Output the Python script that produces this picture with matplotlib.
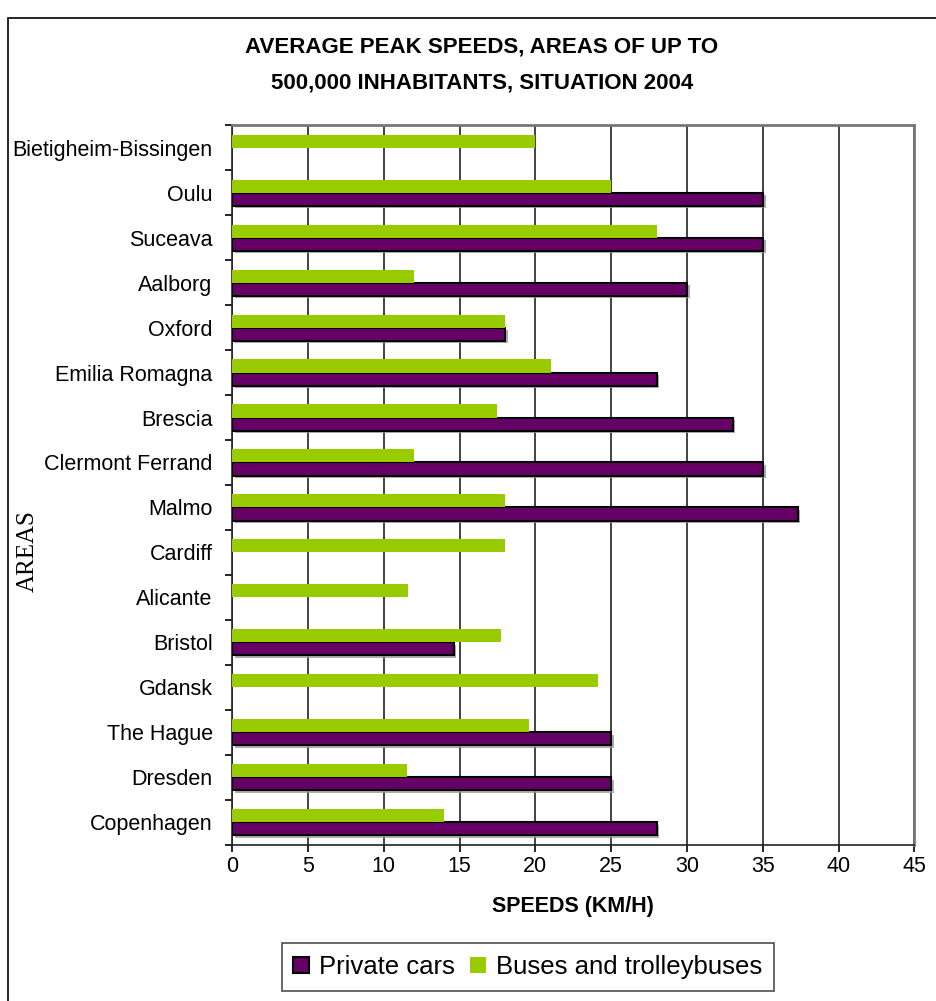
import numpy as np
import matplotlib.pyplot as plt
import matplotlib.patheffects as pe
from matplotlib.patches import Rectangle

# areas listed bottom to top
areas = ['Copenhagen', 'Dresden', 'The Hague', 'Gdansk', 'Bristol', 'Alicante',
         'Cardiff', 'Malmo', 'Clermont Ferrand', 'Brescia', 'Emilia Romagna',
         'Oxford', 'Aalborg', 'Suceava', 'Oulu', 'Bietigheim-Bissingen']
private_cars = [28, 25, 25, 0, 14.6, 0, 0, 37.3, 35, 33, 28, 18, 30, 35, 35, 0]
buses = [14, 11.5, 19.6, 24.1, 17.7, 11.6, 18, 18, 12, 17.5, 21, 18, 12, 28, 25, 20]
x_ticks = [0, 5, 10, 15, 20, 25, 30, 35, 40, 45]

plt.rcParams['font.family'] = ['Liberation Sans', 'DejaVu Sans']

fig = plt.figure(figsize=(9.36, 10.01), dpi=100)
ax = fig.add_axes([0.248, 0.156, 0.729, 0.719])

y = np.arange(len(areas))
h = 0.29
cars = np.array(private_cars, dtype=float)
has_car = cars > 0
ax.barh(y[has_car] - h / 2, cars[has_car], height=h, color='#660066',
        edgecolor='black', linewidth=1.5, zorder=3,
        path_effects=[pe.SimplePatchShadow(offset=(2, -2), shadow_rgbFace='#999999', alpha=0.8),
                      pe.Normal()])
ax.barh(y + h / 2, buses, height=h, color='#99CC00', linewidth=0, zorder=3)

ax.set_xlim(0, 45)
ax.set_ylim(-0.5, len(areas) - 0.5)
ax.set_xticks(x_ticks)
ax.set_xticklabels([str(t) for t in x_ticks], fontsize=15.5)
ax.set_yticks(y)
ax.set_yticklabels(areas, fontsize=15.5)
ax.set_yticks(np.arange(len(areas) + 1) - 0.5, minor=True)
ax.tick_params(axis='y', which='major', length=0, pad=14)
ax.tick_params(axis='y', which='minor', length=5, width=1.2, direction='out')
ax.tick_params(axis='x', length=5, width=1.2, direction='out', pad=3)

ax.grid(axis='x', color='#222222', linewidth=1.2, zorder=0)
ax.set_axisbelow(True)
for side in ['top', 'right']:
    ax.spines[side].set_color('#777777')
    ax.spines[side].set_linewidth(2)
for side in ['left', 'bottom']:
    ax.spines[side].set_color('#222222')
    ax.spines[side].set_linewidth(1.2)

ax.set_xlabel('SPEEDS (KM/H)', fontsize=15.5, fontweight='bold', labelpad=14)
fig.text(0.03, 0.449, 'AREAS', rotation=90, fontsize=18, family='Liberation Serif',
         ha='center', va='center')

fig.text(0.515, 0.935, 'AVERAGE PEAK SPEEDS, AREAS OF UP TO\n500,000 INHABITANTS, SITUATION 2004',
         ha='center', va='center', fontsize=16, fontweight='bold', linespacing=1.9)

handles = [Rectangle((0, 0), 1, 1, facecolor='#660066', edgecolor='black', linewidth=1.5),
           Rectangle((0, 0), 1, 1, facecolor='#99CC00', linewidth=0)]
leg = fig.legend(handles, ['Private cars', 'Buses and trolleybuses'], loc='center',
                 bbox_to_anchor=(0.564, 0.034), ncol=2, fontsize=18.5, frameon=True,
                 fancybox=False, edgecolor='#222222', handlelength=0.6, handleheight=0.6,
                 handletextpad=0.4, columnspacing=0.6, borderpad=0.45)
leg.get_frame().set_linewidth(1.2)

# outer chart border
fig.patches.append(Rectangle((8 / 936, -0.05), 1.1, 1 - 18 / 1001 + 0.05,
                             transform=fig.transFigure, fill=False,
                             edgecolor='black', linewidth=1.2))

fig.savefig('out.png', dpi=100)
